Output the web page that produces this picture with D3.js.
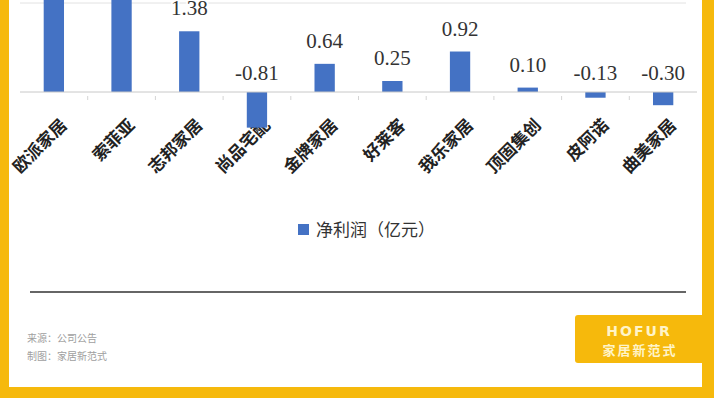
<!DOCTYPE html>
<html>
<head>
<meta charset="utf-8">
<script src="https://cdn.jsdelivr.net/npm/d3@7/dist/d3.min.js"></script>
<style>
  body { margin: 0; background: #fff; }
  svg { display: block; }
</style>
</head>
<body>
<svg class="chart" width="714" height="398"></svg>
<script>
const companies = ["欧派家居", "索菲亚", "志邦家居", "尚品宅配", "金牌家居", "好莱客", "我乐家居", "顶固集创", "皮阿诺", "曲美家居"];
const netProfit = [11.26, 5.46, 1.38, -0.81, 0.64, 0.25, 0.92, 0.10, -0.13, -0.30];
const gridValues = [2];
const legendLabel = "净利润（亿元）";
const sourceLines = ["来源：公司公告", "制图：家居新范式"];

const svg = d3.select("svg.chart");
const blue = "#4472c4";
const yellow = "#f6b90c";

const x = d3.scaleBand().domain(companies).range([20, 697]).paddingInner(0.7).paddingOuter(0.35);
const y = d3.scaleLinear().domain([0, 2]).range([92, 4]);

const data = companies.map((c, i) => ({ name: c, value: netProfit[i] }));

// gridlines
svg.selectAll("line.grid")
  .data(gridValues)
  .enter()
  .append("line")
  .attr("x1", 20)
  .attr("x2", 686)
  .attr("y1", d => y(d) - 1)
  .attr("y2", d => y(d) - 1)
  .attr("stroke", "#e2e2e2")
  .attr("stroke-width", 1);

// category labels (drawn under the bars, as in the original)
svg.selectAll("text.cat")
  .data(companies)
  .enter()
  .append("text")
  .attr("transform", d => "translate(" + (x(d) + x.bandwidth() / 2 + 10) + "," + 122 + ") rotate(-45)")
  .attr("text-anchor", "end")
  .attr("dy", "0.35em")
  .attr("font-family", "Noto Sans CJK SC, sans-serif")
  .attr("font-size", 17)
  .attr("font-weight", "bold")
  .attr("fill", "#222")
  .text(d => d);

// bars
svg.selectAll("rect.bar")
  .data(data)
  .enter()
  .append("rect")
  .attr("class", "bar")
  .attr("x", d => x(d.name))
  .attr("width", x.bandwidth())
  .attr("y", d => Math.min(y(d.value), y(0)))
  .attr("height", d => Math.abs(y(d.value) - y(0)))
  .attr("fill", blue);

// zero axis
svg.append("line")
  .attr("x1", 20)
  .attr("x2", 697)
  .attr("y1", y(0))
  .attr("y2", y(0))
  .attr("stroke", "#c8c8c8")
  .attr("stroke-width", 1);

// faint category boundary ticks
svg.selectAll("line.tick")
  .data(companies.slice(1))
  .enter()
  .append("line")
  .attr("x1", d => x(d) + x.bandwidth() / 2 - x.step() / 2)
  .attr("x2", d => x(d) + x.bandwidth() / 2 - x.step() / 2)
  .attr("y1", y(0) + 4)
  .attr("y2", y(0) + 8)
  .attr("stroke", "#d4d4d4")
  .attr("stroke-width", 1);

// value labels
svg.selectAll("text.value")
  .data(data)
  .enter()
  .append("text")
  .attr("x", d => x(d.name) + x.bandwidth() / 2)
  .attr("y", d => d.value >= 0 ? y(d.value) - 16 : y(0) - 12)
  .attr("text-anchor", "middle")
  .attr("font-family", "Liberation Serif, serif")
  .attr("font-size", 21)
  .attr("fill", "#333")
  .attr("stroke", "#fff")
  .attr("stroke-width", 4)
  .attr("paint-order", "stroke")
  .text(d => d.value.toFixed(2));

// legend
svg.append("rect")
  .attr("x", 298)
  .attr("y", 224)
  .attr("width", 11)
  .attr("height", 11)
  .attr("fill", blue);

svg.append("text")
  .attr("x", 316)
  .attr("y", 230)
  .attr("dy", "0.35em")
  .attr("font-family", "Noto Sans CJK SC, sans-serif")
  .attr("font-size", 17)
  .attr("fill", "#333")
  .text(legendLabel);

// separator
svg.append("line")
  .attr("x1", 30)
  .attr("x2", 686)
  .attr("y1", 292)
  .attr("y2", 292)
  .attr("stroke", "#333")
  .attr("stroke-width", 1.5);

// source
svg.selectAll("text.src")
  .data(sourceLines)
  .enter()
  .append("text")
  .attr("x", 27)
  .attr("y", (d, i) => 338 + i * 18)
  .attr("dy", "0.35em")
  .attr("font-family", "Noto Sans CJK SC, sans-serif")
  .attr("font-size", 10)
  .attr("fill", "#a0a0a0")
  .text(d => d);

// logo box
svg.append("rect")
  .attr("x", 575)
  .attr("y", 315)
  .attr("width", 135)
  .attr("height", 48)
  .attr("rx", 3)
  .attr("fill", yellow);

svg.append("text")
  .attr("x", 639)
  .attr("y", 336)
  .attr("text-anchor", "middle")
  .attr("font-family", "DejaVu Sans, sans-serif")
  .attr("font-weight", "bold")
  .attr("font-size", 14)
  .attr("letter-spacing", 2)
  .attr("fill", "#fff4c8")
  .text("HOFUR");

svg.append("text")
  .attr("x", 640)
  .attr("y", 355)
  .attr("text-anchor", "middle")
  .attr("font-family", "Noto Sans CJK SC, sans-serif")
  .attr("font-weight", "bold")
  .attr("font-size", 13)
  .attr("letter-spacing", 2)
  .attr("fill", "#fff4c8")
  .text("家居新范式");

// frame
svg.append("rect").attr("x", 0).attr("y", 0).attr("width", 9).attr("height", 398).attr("fill", yellow);
svg.append("rect").attr("x", 702).attr("y", 0).attr("width", 12).attr("height", 398).attr("fill", yellow);
svg.append("rect").attr("x", 0).attr("y", 387).attr("width", 714).attr("height", 11).attr("fill", yellow);
</script>
</body>
</html>
